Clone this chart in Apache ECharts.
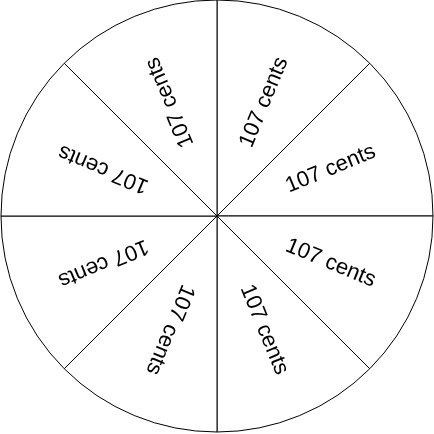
<!DOCTYPE html>
<html><head><meta charset="utf-8">
<script src="https://cdn.jsdelivr.net/npm/echarts@6/dist/echarts.min.js"></script>
<style>html,body{margin:0;padding:0;background:#fff}#c{width:434px;height:434px}</style>
</head><body><div id="c"></div>
<script>
const categories = ['s1','s2','s3','s4','s5','s6','s7','s8'];
const values = [107,107,107,107,107,107,107,107];
const labels = ['107 cents','107 cents','107 cents','107 cents','107 cents','107 cents','107 cents','107 cents'];

const total = values.reduce((a,b)=>a+b,0);
let acc = 0;
const labelData = values.map((v,i)=>{
  const mid = 90 - (acc + v/2)/total*360;
  acc += v;
  return {name: categories[i], value: v, label: {rotate: mid, formatter: labels[i]}};
});

const chart = echarts.init(document.getElementById('c'), null, {renderer:'canvas'});
chart.setOption({
  animation: false,
  backgroundColor: '#fff',
  series: [
    {
      type: 'pie', center: [217, 216], radius: [0, 216], startAngle: 90, clockwise: true,
      silent: true,
      label: {show: false}, labelLine: {show: false},
      itemStyle: {color: '#fff', borderColor: '#000', borderWidth: 1},
      data: values.map((v,i)=>({name: categories[i], value: v}))
    },
    {
      type: 'pie', center: [217, 216], radius: [24, 216], startAngle: 90, clockwise: true,
      silent: true,
      itemStyle: {color: 'rgba(0,0,0,0)', borderWidth: 0},
      label: {show: true, position: 'inside', color: '#000', fontFamily: 'Liberation Sans, Arial, sans-serif', fontSize: 22},
      labelLine: {show: false},
      data: labelData
    }
  ]
});
</script></body></html>
